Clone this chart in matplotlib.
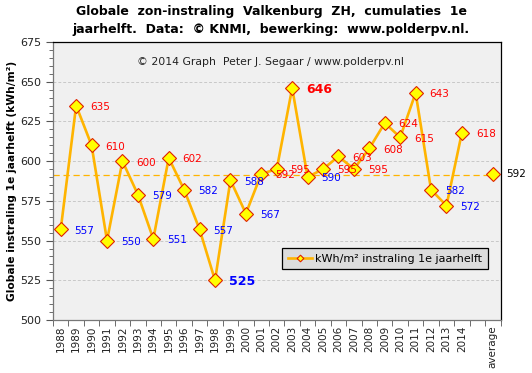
import matplotlib
matplotlib.use("Agg")
import matplotlib.pyplot as plt
from matplotlib.ticker import MultipleLocator, FixedLocator

years = [str(y) for y in range(1988, 2015)]
values = [557, 635, 610, 550, 600, 579, 551, 602, 582, 557, 525, 588, 567, 592,
          595, 646, 590, 595, 603, 595, 608, 624, 615, 643, 582, 572, 618]
average_label = "average"
average_value = 592
average_line = 591.3
bold_labels = [646, 525]

fig = plt.figure(figsize=(5.32, 3.73), dpi=100)
fig.patch.set_facecolor("white")
ax = fig.add_axes([53/532, 1-320/373, (500.5-53)/532, (320-42)/373])
ax.set_facecolor("#F0F0F0")

xs = list(range(len(years)))
avg_x = len(years) + 1

line_col = "#FFB400"
ax.plot(xs, values, color=line_col, lw=1.9, marker="D", ms=6.8,
        mfc="#FFFF00", mec="#E02000", mew=0.8, zorder=3,
        label="kWh/m² instraling 1e jaarhelft")
ax.plot([avg_x], [average_value], color=line_col, lw=0, marker="D", ms=6.8,
        mfc="#FFFF00", mec="#E02000", mew=0.8, zorder=3)
ax.axhline(average_line, color="#FFB400", lw=0.9, ls=(0, (5, 3)), zorder=2)

for x, v in zip(xs, values):
    col = "#FF0000" if v >= 592 else "#0000FF"
    bold = v in bold_labels
    ax.annotate(str(v), (x, v), xytext=(10, -1),
                textcoords="offset points", ha="left", va="center",
                color=col, fontsize=9 if bold else 7.5,
                fontweight="bold" if bold else "normal", zorder=4)
ax.annotate(str(average_value), (avg_x, average_value), xytext=(10, 0),
            textcoords="offset points", ha="left", va="center",
            color="#000000", fontsize=7.5, annotation_clip=False)

ax.set_xlim(-0.5, len(years) + 1.5)
ax.set_ylim(500, 675)
ax.yaxis.set_major_locator(MultipleLocator(25))
ax.yaxis.set_minor_locator(MultipleLocator(5))
ax.grid(axis="y", which="major", color="#C8C8C8", ls=(0, (3, 2)), lw=0.7)
ax.set_axisbelow(True)

ax.set_xticks(xs + [avg_x])
ax.set_xticklabels(years + [average_label], rotation=90, fontsize=7.5, color="#222222")
ax.xaxis.set_minor_locator(FixedLocator([i - 0.5 for i in range(len(years) + 3)]))
ax.tick_params(axis="x", which="major", length=0, pad=4)
ax.tick_params(axis="x", which="minor", length=4, color="#555555")
ax.tick_params(axis="y", which="major", length=5, labelsize=8, color="#555555",
               labelcolor="#222222")
ax.tick_params(axis="y", which="minor", length=3, color="#555555")
for s in ax.spines.values():
    s.set_color("#000000")
    s.set_linewidth(0.9)
ax.spines["left"].set_color("#777777")
ax.spines["bottom"].set_color("#777777")

ax.set_ylabel("Globale instraling 1e jaarhelft (kWh/m²)", fontsize=7.7,
              fontweight="bold", labelpad=2)

ax.text(0.487, 0.928, "© 2014 Graph  Peter J. Segaar / www.polderpv.nl",
        transform=ax.transAxes, ha="center", va="center", fontsize=7.8, color="#222222")

fig.text(0.51, 1-12/373, "Globale  zon-instraling  Valkenburg  ZH,  cumulaties  1e",
         ha="center", va="center", fontsize=9, fontweight="bold")
fig.text(0.51, 1-30/373, "jaarhelft.  Data:  © KNMI,  bewerking:  www.polderpv.nl.",
         ha="center", va="center", fontsize=9, fontweight="bold")

leg = ax.legend(loc="upper right", bbox_to_anchor=((488-53)/447.5, (320-248)/278),
                fontsize=8, frameon=True, fancybox=False, borderaxespad=0,
                markerscale=0.5, handlelength=2.2, handletextpad=0.3,
                borderpad=0.5)
leg.get_frame().set_facecolor("#DCDCDC")
leg.get_frame().set_edgecolor("#000000")
leg.get_frame().set_alpha(1)
leg.get_frame().set_linewidth(0.9)

fig.savefig("out.png", dpi=100)
